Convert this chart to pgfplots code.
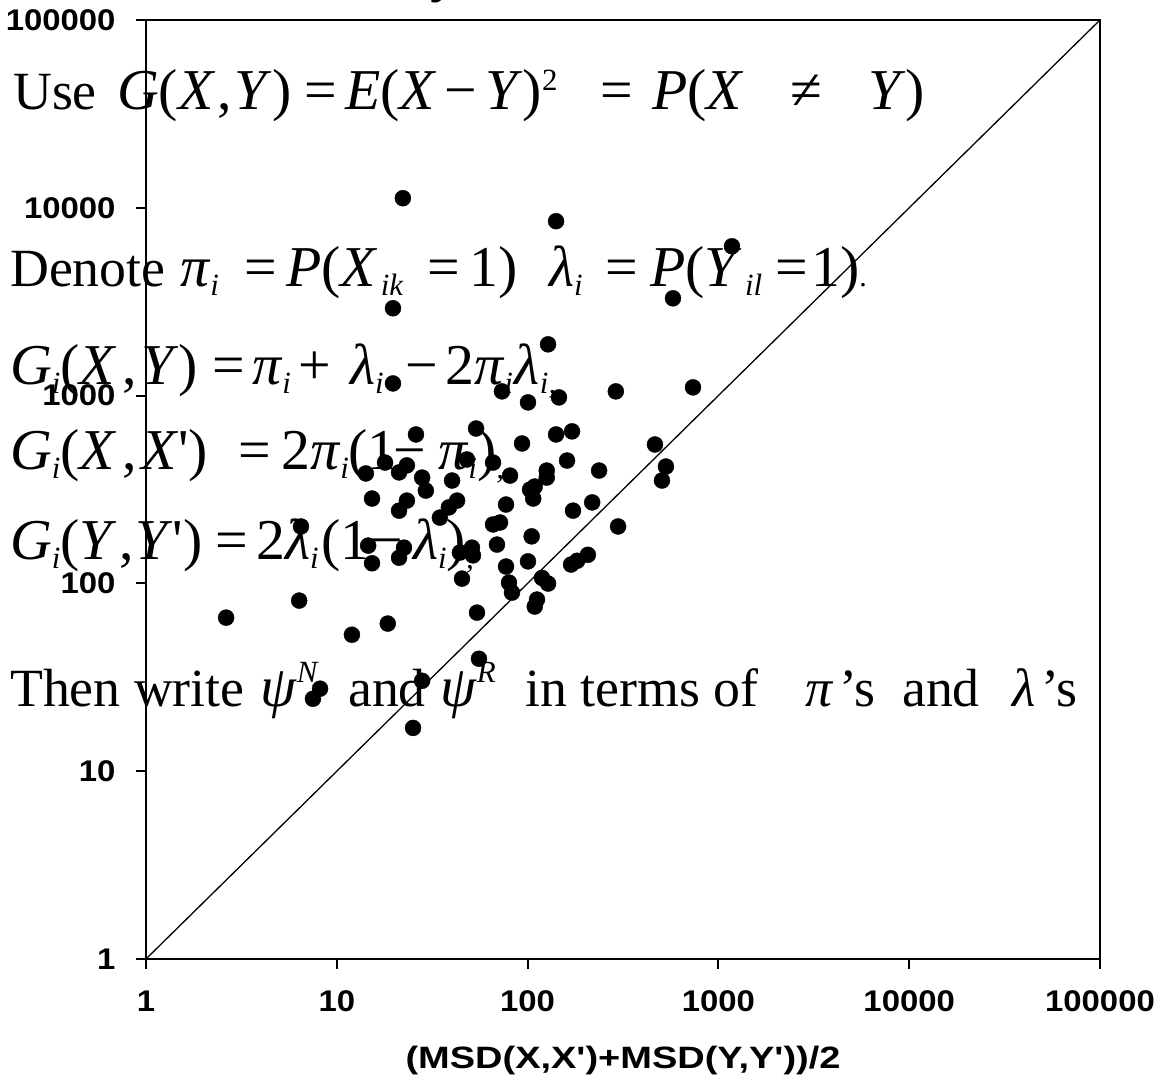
\documentclass[border=0pt]{standalone}
\usepackage{fontspec}
\usepackage{pgfplots}
\pgfplotsset{compat=1.18}
\newfontfamily\arial{Liberation Sans}
\newfontfamily\tnr{Liberation Serif}

\newcommand\tk[1]{\scalebox{1.1}[1]{#1}}
\newcommand\M[1]{\textit{#1}}
\newcommand\mf{\fontsize{58}{60}\selectfont}
\newcommand\lo[1]{\raisebox{-9bp}{\fontsize{31}{31}\selectfont\textit{#1}}}
\newcommand\hi[2]{\raisebox{#1}{\fontsize{31}{31}\selectfont #2}}
% text node at pixel position (x, baseline y) of the 1166x1091 picture
\newcommand\tx[3]{\node[txt] at ({#1bp-146bp},{959bp-#2bp}) {#3};}

\begin{document}
\begin{tikzpicture}[txt/.style={anchor=base west, inner sep=0pt, font=\tnr\fontsize{54}{60}\selectfont}]
\path[use as bounding box] (-146bp,-132bp) rectangle (1020bp,959bp);
\begin{axis}[
    at={(0,0)}, anchor=south west,
    scale only axis, width=954bp, height=939bp,
    xmode=log, ymode=log,
    xmin=1, xmax=100000, ymin=1, ymax=100000,
    xtick={1,10,100,1000,10000,100000},
    ytick={1,10,100,1000,10000,100000},
    xticklabels={\tk{1},\tk{10},\tk{100},\tk{1000},\tk{10000},\tk{100000}},
    yticklabels={\tk{1},\tk{10},\tk{100},\tk{1000},\tk{10000},\tk{100000}},
    xminorticks=false, yminorticks=false,
    tick align=outside, xtick pos=left, ytick pos=left,
    major tick length=10bp,
    axis line style={line width=2bp},
    every tick/.style={black, line width=2bp},
    tick label style={font=\arial\bfseries\fontsize{30}{30}\selectfont},
    xticklabel style={yshift=-18bp},
    yticklabel style={xshift=-17bp},
    xlabel={\scalebox{1.23}[1]{(MSD(X,X')+MSD(Y,Y'))/2}},
    xlabel style={font=\arial\bfseries\fontsize{31}{31}\selectfont,
        at={(axis description cs:0.5,-0.117)}, anchor=base},
]
\addplot[black, line width=1.3bp] coordinates {(1,1) (100000,100000)};
\addplot[only marks, mark=*, mark size=8bp, black] coordinates {
(22.2,11250) (19.7,2917) (19.7,1161) (141,8485) (1178,6240) (578,3296)
(128,1875) (73.4,1053) (100.5,920) (146,978) (290,1053) (736,1106)
(26.0,621) (17.9,440) (14.2,385) (21.2,390) (23.3,425) (28.0,366)
(29.3,312) (15.3,283) (23.3,276) (21.2,244) (40.2,353) (34.7,224)
(38.7,254) (6.49,201) (14.6,159) (22.5,155) (21.2,137) (15.3,128)
(6.35,81) (53.7,668) (93.5,556) (141,621) (171,645) (465,549)
(531,419) (506,353) (48.1,457) (65.9,440) (80.9,375) (126,399)
(126,366) (161,451) (237,399) (109,328) (103,316) (107,283)
(42.7,276) (77.1,263) (218,270) (173,244) (65.9,206) (71.7,211)
(105,178) (298,201) (69.1,161) (51.1,155) (44.2,146) (51.7,141)
(45.3,106) (77.1,123) (100.5,131) (169,126) (182,132) (207,142)
(79.9,101) (82.8,89.3) (119,107) (128,99.8) (112,82) (109,75.3)
(54.3,69.9) (55.6,39.7) (2.63,65.7) (12.0,53.3) (18.5,61.1)
(8.17,27.5) (7.5,24.3) (28.0,30.3) (25.1,17.0)
};
\end{axis}
% cut-off title
\tx{436}{-9}{\mf\M{y}}
% line 1
\tx{13}{110}{Use}
\tx{117}{110}{\mf\M{G}(\M{X}\hspace{2bp},\hspace{3bp}\M{Y})}
\tx{304}{110}{\mf=}
\tx{345}{110}{\mf\M{E}(\M{X}\hspace{8bp}−\hspace{8bp}\M{Y})\hi{19bp}{2}}
\tx{600}{110}{\mf=}
\tx{652}{110}{\mf\M{P}(\M{X}}
\tx{790}{110}{\mf≠}
\tx{868}{110}{\mf\M{Y})}
% line 2
\tx{10}{287}{Denote}
\tx{180}{287}{\mf\M{π}\lo{i}}
\tx{244}{287}{\mf=}
\tx{286}{287}{\mf\M{P}(\M{X}\hspace{3bp}\lo{ik}}
\tx{427}{287}{\mf=}
\tx{469}{287}{\mf1)}
\tx{549}{287}{\mf\M{λ}\lo{i}}
\tx{605}{287}{\mf=}
\tx{650}{287}{\mf\M{P}(\M{Y}\hspace{3bp}\lo{il}}
\tx{775}{287}{\mf=}
\tx{811}{287}{\mf1){\fontsize{30}{30}\selectfont.}}
% line 3
\tx{10}{385}{\mf\M{G}\lo{i}(\M{X}\hspace{6bp},\hspace{4bp}\M{Y})}
\tx{212}{385}{\mf=}
\tx{252}{385}{\mf\M{π}\lo{i}}
\tx{298}{385}{\mf+}
\tx{350}{385}{\mf\M{λ}\lo{i}}
\tx{405}{385}{\mf−}
\tx{445}{385}{\mf2\M{π}\lo{i}\hspace{2bp}\M{λ}\lo{i,}}
% line 4
\tx{10}{470}{\mf\M{G}\lo{i}(\M{X}\hspace{6bp},\hspace{4bp}\M{X}')}
\tx{238}{470}{\mf=}
\tx{281}{470}{\mf2\M{π}\lo{i}}
\tx{348}{470}{\mf(1}
\tx{393}{470}{\mf−}
\tx{438}{470}{\mf\M{π}\lo{i})\lo{,}}
% line 5
\tx{10}{560}{\mf\M{G}\lo{i}(\M{Y}\hspace{2bp},\hspace{2bp}\M{Y}')}
\tx{215}{560}{\mf=}
\tx{256}{560}{\mf2\M{λ}\lo{i}}
\tx{321}{560}{\mf(1}
\tx{370}{560}{\mf−}
\tx{413}{560}{\mf\M{λ}\lo{i})\lo{,}}
% line 6
\tx{10}{707}{Then write}
\tx{260}{707}{\mf\M{ψ}\hi{24bp}{\M{N}}}
\tx{348}{707}{and}
\tx{440}{707}{\mf\M{ψ}\hi{24bp}{\M{R}}}
\tx{525}{707}{in terms of}
\tx{805}{707}{\M{π}\hspace{6bp}’s}
\tx{902}{707}{and}
\tx{1012}{707}{\M{λ}\hspace{6bp}’s}
\end{tikzpicture}
\end{document}
